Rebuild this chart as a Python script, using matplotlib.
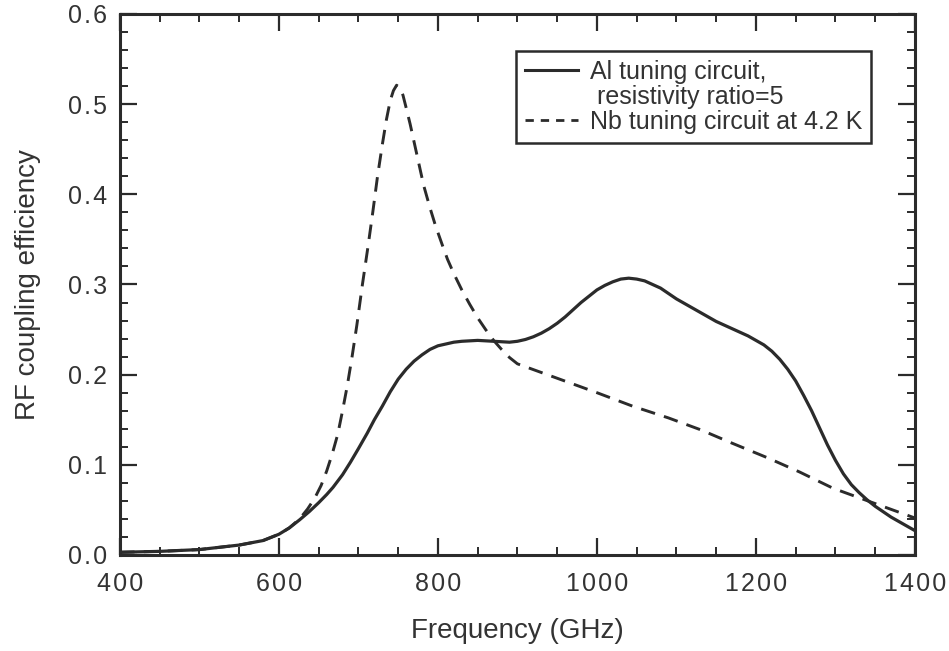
import matplotlib.pyplot as plt
from matplotlib.lines import Line2D
from matplotlib.ticker import MultipleLocator

plt.rcParams['font.family'] = ['Liberation Sans', 'DejaVu Sans']

# Al tuning circuit (solid)
al_freq = [400, 450, 500, 550, 580, 600, 613, 626, 638, 650, 660, 668, 680, 690, 700,
           711, 720, 730, 740, 750, 760, 770, 780, 790, 800, 810, 820, 830, 850, 870,
           890, 900, 910, 920, 930, 940, 950, 960, 970, 980, 990, 1000, 1010, 1020,
           1030, 1040, 1050, 1060, 1070, 1080, 1090, 1100, 1110, 1120, 1130, 1140,
           1150, 1160, 1170, 1180, 1190, 1200, 1210, 1220, 1230, 1240, 1250, 1260,
           1270, 1280, 1290, 1300, 1310, 1320, 1330, 1340, 1350, 1360, 1370, 1380,
           1390, 1400]
al_eff = [0.003, 0.004, 0.006, 0.011, 0.016, 0.023, 0.030, 0.039, 0.048, 0.058, 0.067,
          0.075, 0.089, 0.103, 0.118, 0.135, 0.150, 0.165, 0.181, 0.195, 0.206, 0.215,
          0.222, 0.228, 0.232, 0.234, 0.236, 0.237, 0.238, 0.237, 0.236, 0.237, 0.239,
          0.242, 0.246, 0.251, 0.257, 0.264, 0.272, 0.280, 0.287, 0.294, 0.299, 0.303,
          0.306, 0.307, 0.306, 0.304, 0.300, 0.296, 0.290, 0.284, 0.279, 0.274, 0.269,
          0.264, 0.259, 0.255, 0.251, 0.247, 0.243, 0.238, 0.233, 0.226, 0.217, 0.206,
          0.193, 0.177, 0.160, 0.141, 0.122, 0.105, 0.090, 0.078, 0.069, 0.061, 0.054,
          0.048, 0.042, 0.037, 0.032, 0.027]

# Nb tuning circuit at 4.2 K (dashed)
nb_freq = [400, 450, 500, 550, 580, 600, 613, 626, 636, 645, 653, 660, 667, 674, 680,
           686, 692, 698, 705, 712, 718, 724, 730, 735, 740, 744, 748, 752, 756, 760,
           765, 770, 775, 782, 790, 797, 805, 812, 820, 830, 840, 850, 860, 870, 880,
           890, 900, 925, 950, 975, 1000, 1045, 1090, 1130, 1170, 1214, 1255, 1297,
           1350, 1400]
nb_eff = [0.003, 0.004, 0.006, 0.011, 0.016, 0.023, 0.030, 0.040, 0.051, 0.063, 0.077,
          0.093, 0.112, 0.134, 0.160, 0.188, 0.220, 0.255, 0.300, 0.342, 0.380, 0.420,
          0.455, 0.482, 0.504, 0.515, 0.521, 0.518, 0.510, 0.496, 0.478, 0.458, 0.438,
          0.410, 0.385, 0.365, 0.345, 0.328, 0.312, 0.294, 0.278, 0.263, 0.250, 0.238,
          0.228, 0.219, 0.212, 0.204, 0.196, 0.188, 0.180, 0.165, 0.152, 0.139, 0.124,
          0.108, 0.092, 0.074, 0.057, 0.041]

ink = '#2b2b2b'
HAIR = '\u200a'

fig = plt.figure(figsize=(9.49, 6.51), dpi=100)
ax = fig.add_axes([0.1264, 0.1475, 0.8377, 0.831])

ax.plot(al_freq, al_eff, color=ink, lw=2.3, solid_capstyle='round', solid_joinstyle='round')
ax.plot(nb_freq, nb_eff, color=ink, lw=2.1, dashes=(5, 3.2))

ax.set_xlim(400, 1400)
ax.set_ylim(0, 0.6)
ax.xaxis.set_major_locator(MultipleLocator(200))
ax.xaxis.set_minor_locator(MultipleLocator(50))
ax.yaxis.set_major_locator(MultipleLocator(0.1))
ax.yaxis.set_minor_locator(MultipleLocator(0.02))
# slightly spaced-out digits like the original typesetting
ax.xaxis.set_major_formatter(plt.FuncFormatter(lambda v, p: HAIR.join(f'{v:.0f}')))
ax.yaxis.set_major_formatter(plt.FuncFormatter(lambda v, p: HAIR.join(f'{v:.1f}')))

ax.tick_params(which='both', direction='in', top=True, right=True, color=ink,
               labelcolor='#333333', labelsize=18)
ax.tick_params(which='major', length=12, width=1.6)
ax.tick_params(which='minor', length=6, width=1.4)
ax.tick_params(axis='x', which='major', pad=12)
ax.tick_params(axis='y', which='major', pad=9)
for s in ax.spines.values():
    s.set_linewidth(2.2)
    s.set_color(ink)

ax.set_xlabel('Frequency (GHz)', fontsize=20, color='#333333', labelpad=16)
ax.set_ylabel('RF coupling efficiency', fontsize=20, color='#333333', labelpad=20)

handles = [Line2D([], [], color=ink, lw=2.2),
           Line2D([], [], linestyle='none'),
           Line2D([], [], color=ink, lw=2.0, dashes=(3, 2.5))]
labels = ['Al tuning circuit,', ' resistivity ratio=5', 'Nb tuning circuit at 4.2 K']
leg = ax.legend(handles, labels, loc='upper right', bbox_to_anchor=(0.945, 0.932),
                borderaxespad=0, fontsize=18, handlelength=2.1, handletextpad=0.5,
                labelspacing=0.05, borderpad=0.35, fancybox=False, framealpha=1)
leg.get_frame().set_edgecolor(ink)
leg.get_frame().set_linewidth(1.8)
for t in leg.get_texts():
    t.set_color('#333333')

fig.savefig('out.png', dpi=100)
